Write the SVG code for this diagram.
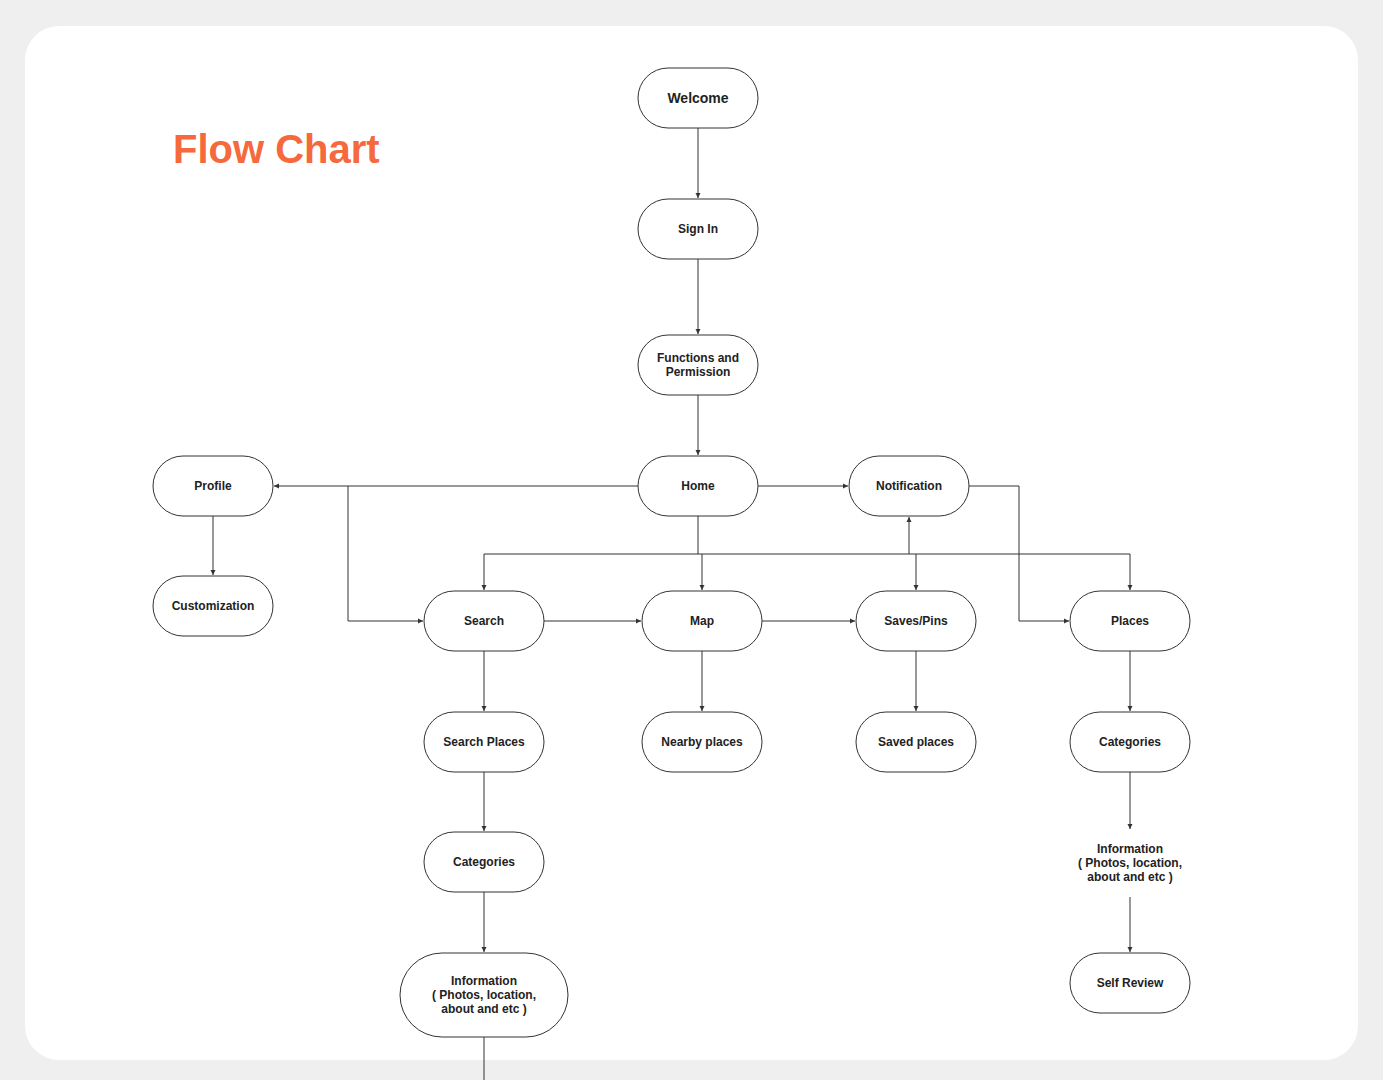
<svg xmlns="http://www.w3.org/2000/svg" width="1383" height="1080" viewBox="0 0 1383 1080">
<defs>
<marker id="arr" markerWidth="6" markerHeight="6" refX="5" refY="3" orient="auto" markerUnits="userSpaceOnUse">
<path d="M0,0.5 L5,3 L0,5.5 Z" fill="#333"/>
</marker>
<style>
.n{fill:#fff;stroke:#333;stroke-width:1}
.t{font-family:"Liberation Sans",Arial,sans-serif;font-weight:bold;font-size:12px;fill:#222;text-anchor:middle}
.c{fill:none;stroke:#333;stroke-width:1}
</style>
</defs>
<rect x="0" y="0" width="1383" height="1080" fill="#efefef"/>
<rect x="25" y="26" width="1333" height="1034" rx="34" fill="#fff"/>
<text x="173" y="163" font-family="Liberation Sans,Arial,sans-serif" font-weight="bold" font-size="40" fill="#f5693c">Flow Chart</text>

<g id="connectors">
<path class="c" d="M698,128 V198" marker-end="url(#arr)"/>
<path class="c" d="M698,259 V334" marker-end="url(#arr)"/>
<path class="c" d="M698,395 V455" marker-end="url(#arr)"/>
<path class="c" d="M638,486 H274" marker-end="url(#arr)"/>
<path class="c" d="M348,486 V621 H423" marker-end="url(#arr)"/>
<path class="c" d="M758,486 H848" marker-end="url(#arr)"/>
<path class="c" d="M698,516 V554"/>
<path class="c" d="M484,554 H1130"/>
<path class="c" d="M484,554 V590" marker-end="url(#arr)"/>
<path class="c" d="M702,554 V590" marker-end="url(#arr)"/>
<path class="c" d="M916,554 V590" marker-end="url(#arr)"/>
<path class="c" d="M1130,554 V590" marker-end="url(#arr)"/>
<path class="c" d="M909,554 V517" marker-end="url(#arr)"/>
<path class="c" d="M969,486 H1019 V621 H1069" marker-end="url(#arr)"/>
<path class="c" d="M544,621 H641" marker-end="url(#arr)"/>
<path class="c" d="M762,621 H855" marker-end="url(#arr)"/>
<path class="c" d="M213,516 V575" marker-end="url(#arr)"/>
<path class="c" d="M484,651 V711" marker-end="url(#arr)"/>
<path class="c" d="M702,651 V711" marker-end="url(#arr)"/>
<path class="c" d="M916,651 V711" marker-end="url(#arr)"/>
<path class="c" d="M1130,651 V711" marker-end="url(#arr)"/>
<path class="c" d="M484,772 V831" marker-end="url(#arr)"/>
<path class="c" d="M484,892 V952" marker-end="url(#arr)"/>
<path class="c" d="M484,1037 V1080"/>
<path class="c" d="M1130,772 V829" marker-end="url(#arr)"/>
<path class="c" d="M1130,897 V952" marker-end="url(#arr)"/>
</g>

<g id="welcome"><rect class="n" x="638" y="68" width="120" height="60" rx="30"/><text class="t" x="698" y="103" style="font-size:14px">Welcome</text></g>
<g id="signin"><rect class="n" x="638" y="199" width="120" height="60" rx="30"/><text class="t" x="698" y="233">Sign In</text></g>
<g id="functions"><rect class="n" x="638" y="335" width="120" height="60" rx="30"/><text class="t" x="698" y="362">Functions and</text><text class="t" x="698" y="376">Permission</text></g>
<g id="home"><rect class="n" x="638" y="456" width="120" height="60" rx="30"/><text class="t" x="698" y="490">Home</text></g>
<g id="profile"><rect class="n" x="153" y="456" width="120" height="60" rx="30"/><text class="t" x="213" y="490">Profile</text></g>
<g id="notification"><rect class="n" x="849" y="456" width="120" height="60" rx="30"/><text class="t" x="909" y="490">Notification</text></g>
<g id="customization"><rect class="n" x="153" y="576" width="120" height="60" rx="30"/><text class="t" x="213" y="610">Customization</text></g>
<g id="search"><rect class="n" x="424" y="591" width="120" height="60" rx="30"/><text class="t" x="484" y="625">Search</text></g>
<g id="map"><rect class="n" x="642" y="591" width="120" height="60" rx="30"/><text class="t" x="702" y="625">Map</text></g>
<g id="saves"><rect class="n" x="856" y="591" width="120" height="60" rx="30"/><text class="t" x="916" y="625">Saves/Pins</text></g>
<g id="places"><rect class="n" x="1070" y="591" width="120" height="60" rx="30"/><text class="t" x="1130" y="625">Places</text></g>
<g id="searchplaces"><rect class="n" x="424" y="712" width="120" height="60" rx="30"/><text class="t" x="484" y="746">Search Places</text></g>
<g id="nearby"><rect class="n" x="642" y="712" width="120" height="60" rx="30"/><text class="t" x="702" y="746">Nearby places</text></g>
<g id="saved"><rect class="n" x="856" y="712" width="120" height="60" rx="30"/><text class="t" x="916" y="746">Saved places</text></g>
<g id="categories-right"><rect class="n" x="1070" y="712" width="120" height="60" rx="30"/><text class="t" x="1130" y="746">Categories</text></g>
<g id="categories-left"><rect class="n" x="424" y="832" width="120" height="60" rx="30"/><text class="t" x="484" y="866">Categories</text></g>
<g id="info-left"><rect class="n" x="400" y="953" width="168" height="84" rx="42"/><text class="t" x="484" y="985">Information</text><text class="t" x="484" y="999">( Photos, location,</text><text class="t" x="484" y="1013">about and etc )</text></g>
<g id="info-right"><text class="t" x="1130" y="853">Information</text><text class="t" x="1130" y="867">( Photos, location,</text><text class="t" x="1130" y="881">about and etc )</text></g>
<g id="selfreview"><rect class="n" x="1070" y="953" width="120" height="60" rx="30"/><text class="t" x="1130" y="987">Self Review</text></g>
</svg>
